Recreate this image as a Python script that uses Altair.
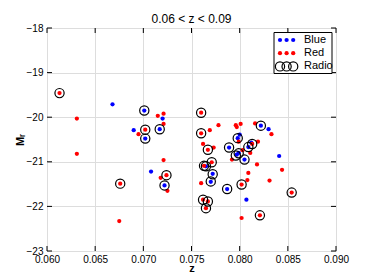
import altair as alt
import pandas as pd

# ---- data ----
blue_z = [0.0668, 0.0701, 0.0690, 0.0702, 0.0720, 0.0717, 0.0798, 0.0800, 0.0822, 0.0830,
          0.0809, 0.0812, 0.0789, 0.0797, 0.0799, 0.0805, 0.0841, 0.0765, 0.0772, 0.0770,
          0.0787, 0.0807, 0.0708, 0.0722]
blue_m = [-19.71, -19.85, -20.29, -20.48, -20.03, -20.27, -20.47, -20.39, -20.19, -20.27,
          -20.67, -20.57, -20.68, -20.84, -20.80, -20.95, -20.87, -21.10, -21.27, -21.45,
          -21.61, -21.85, -21.22, -21.53]

red_z = [0.0613, 0.0631, 0.0695, 0.0702, 0.0715, 0.0721, 0.0721, 0.0760, 0.0760, 0.0769,
         0.0778, 0.0796, 0.0797, 0.0801, 0.0816, 0.0833, 0.0799, 0.0819, 0.0813, 0.0762,
         0.0767, 0.0773, 0.0803, 0.0811, 0.0792, 0.0818, 0.0844, 0.0763, 0.0771, 0.0809,
         0.0760, 0.0802, 0.0808, 0.0831, 0.0762, 0.0767, 0.0765, 0.0802, 0.0821, 0.0854,
         0.0631, 0.0721, 0.0718, 0.0724, 0.0725, 0.0676, 0.0675]
red_m = [-19.46, -20.03, -20.38, -20.28, -19.97, -19.92, -20.15, -19.90, -20.36, -20.29,
         -20.18, -20.18, -20.22, -20.15, -20.14, -20.38, -20.55, -20.55, -20.60, -20.60,
         -20.73, -20.68, -20.74, -20.80, -20.95, -21.06, -21.18, -21.09, -21.01, -21.25,
         -21.48, -21.51, -21.41, -21.42, -21.85, -21.89, -22.04, -22.26, -22.20, -21.69,
         -20.82, -20.96, -21.36, -21.30, -21.65, -21.49, -22.33]

radio_z = [0.0613, 0.0701, 0.0702, 0.0702, 0.0717, 0.0760, 0.0760, 0.0822, 0.0798,
           0.0789, 0.0767, 0.0809, 0.0813, 0.0796, 0.0799, 0.0805,
           0.0763, 0.0765, 0.0771, 0.0772, 0.0770, 0.0787, 0.0802,
           0.0762, 0.0767, 0.0765, 0.0821, 0.0854, 0.0724, 0.0722, 0.0676]
radio_m = [-19.46, -19.85, -20.28, -20.48, -20.27, -19.90, -20.36, -20.19, -20.47,
           -20.68, -20.73, -20.67, -20.60, -20.86, -20.81, -20.95,
           -21.09, -21.10, -21.01, -21.28, -21.44, -21.61, -21.51,
           -21.85, -21.89, -22.04, -22.20, -21.69, -21.30, -21.53, -21.49]

x_ticks = [0.060, 0.065, 0.070, 0.075, 0.080, 0.085, 0.090]
y_ticks = [-18, -19, -20, -21, -22, -23]
legend_labels = ["Blue", "Red", "Radio"]
title_text = "0.06 < z < 0.09"

# ---- chart ----
W, H = 289, 223
FONT = "Liberation Sans"

blue_df = pd.DataFrame({"z": blue_z, "M": blue_m})
red_df = pd.DataFrame({"z": red_z, "M": red_m})
radio_df = pd.DataFrame({"z": radio_z, "M": radio_m})
xt_df = pd.DataFrame({"z": x_ticks})
yt_df = pd.DataFrame({"M": y_ticks})

xscale = alt.Scale(domain=[0.060, 0.090], nice=False, zero=False)
yscale = alt.Scale(domain=[-23, -18], nice=False, zero=False)

xenc = alt.X("z:Q", scale=xscale,
             axis=alt.Axis(values=x_ticks, format=".3f", title="z", labelFlush=False,
                           ticks=False, tickSize=0, domain=False,
                           labelPadding=3, titlePadding=-2, titleFontSize=11))
yenc = alt.Y("M:Q", scale=yscale,
             axis=alt.Axis(values=y_ticks, format="d", title="Mᵣ", labelPadding=4,
                           ticks=False, tickSize=0, domain=False,
                           titlePadding=1))

blue = alt.Chart(blue_df).mark_point(filled=True, size=18, color="#0000ff", opacity=1).encode(x=xenc, y=yenc)
red = alt.Chart(red_df).mark_point(filled=True, size=18, color="#ff0000", opacity=1).encode(
    x=alt.X("z:Q"), y=alt.Y("M:Q"))
radio = alt.Chart(radio_df).mark_point(filled=False, size=85, color="black", strokeWidth=1.2, opacity=1).encode(
    x=alt.X("z:Q"), y=alt.Y("M:Q"))

# inward ticks on all four sides
tb = alt.Chart(xt_df).mark_rule(color="black", strokeWidth=1).encode(
    x=alt.X("z:Q"), y=alt.value(H), y2=alt.value(H - 5))
tt = alt.Chart(xt_df).mark_rule(color="black", strokeWidth=1).encode(
    x=alt.X("z:Q"), y=alt.value(0), y2=alt.value(5))
tl = alt.Chart(yt_df).mark_rule(color="black", strokeWidth=1).encode(
    y=alt.Y("M:Q"), x=alt.value(0), x2=alt.value(5))
tr = alt.Chart(yt_df).mark_rule(color="black", strokeWidth=1).encode(
    y=alt.Y("M:Q"), x=alt.value(W), x2=alt.value(W - 5))

# legend box
leg_box = alt.Chart(pd.DataFrame({"a": [0]})).mark_rect(
    fill="white", stroke="black", strokeWidth=1).encode(
    x=alt.value(227), x2=alt.value(285), y=alt.value(4.5), y2=alt.value(45.5))

leg_rows = []
for i, lab in enumerate(legend_labels):
    for k in range(3):
        leg_rows.append({"lab": lab, "i": i, "k": k})
leg_df = pd.DataFrame(leg_rows)

leg_base = alt.Chart(leg_df).transform_calculate(
    px="233 + 6.6*datum.k", py="12 + 13.2*datum.i")
leg_blue = leg_base.transform_filter("datum.lab == 'Blue'").mark_point(
    filled=True, size=18, color="#0000ff", opacity=1).encode(
    x=alt.X("px:Q", scale=None), y=alt.Y("py:Q", scale=None))
leg_red = leg_base.transform_filter("datum.lab == 'Red'").mark_point(
    filled=True, size=18, color="#ff0000", opacity=1).encode(
    x=alt.X("px:Q", scale=None), y=alt.Y("py:Q", scale=None))
leg_radio = leg_base.transform_filter("datum.lab == 'Radio'").mark_point(
    filled=False, size=85, color="black", strokeWidth=1.2, opacity=1).encode(
    x=alt.X("px:Q", scale=None), y=alt.Y("py:Q", scale=None))
leg_text = alt.Chart(pd.DataFrame({"lab": legend_labels, "i": [0, 1, 2]})).transform_calculate(
    py="12 + 13.2*datum.i").mark_text(
    align="left", baseline="middle", font=FONT, fontSize=11, color="black").encode(
    x=alt.value(257), y=alt.Y("py:Q", scale=None), text="lab:N")

chart = alt.layer(
    blue, red, radio, tb, tt, tl, tr,
    leg_box, leg_blue, leg_red, leg_radio, leg_text
).properties(
    width=W, height=H,
    title=alt.TitleParams(title_text, font=FONT, fontSize=12, fontWeight="normal",
                          anchor="middle", offset=-3, color="black"),
    autosize=alt.AutoSizeParams(type="none"),
    padding={"left": 39, "top": 20, "right": 30, "bottom": 21},
).configure_view(
    stroke="black", strokeWidth=1
).configure_axis(
    grid=False, domain=False, ticks=False, tickSize=0,
    labelFont=FONT, labelFontSize=11, labelColor="black",
    titleFont=FONT, titleFontSize=11.5, titleFontWeight="normal", titleColor="black"
).configure(background="white")

chart.save("out.html", embed_options={"renderer": "svg", "actions": False})
